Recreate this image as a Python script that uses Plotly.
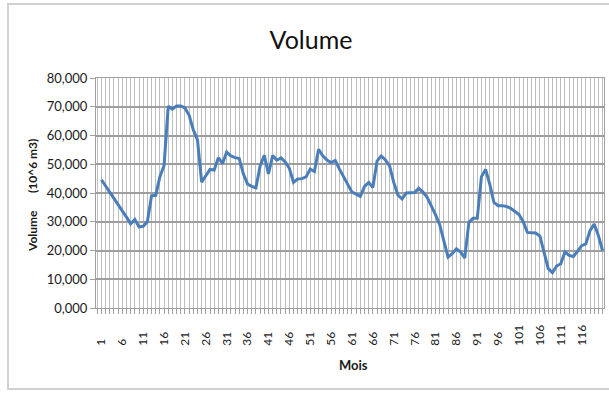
import plotly.graph_objects as go

# Data (10^6 m3), month index 1..121
months = list(range(1, 122))
volume = [
    44.6, 42.5, 40.4, 38.2, 36.0, 33.8, 31.6, 29.3, 30.8, 28.2,
    28.4, 30.0, 39.0, 39.2, 45.7, 49.6, 70.2, 69.2, 70.3, 70.3,
    69.6, 67.0, 62.0, 58.5, 43.8, 46.0, 48.2, 48.0, 52.3, 50.3,
    54.2, 52.9, 52.3, 52.0, 46.6, 43.1, 42.3, 41.8, 49.4, 53.1,
    46.6, 53.0, 51.4, 52.2, 50.8, 48.6, 43.7, 44.9, 45.0, 45.6,
    48.3, 47.5, 55.2, 52.9, 51.5, 50.6, 51.3, 48.3, 45.6, 42.6,
    40.3, 39.6, 38.8, 42.3, 43.7, 41.9, 51.1, 52.9, 51.5, 49.4,
    43.7, 39.3, 37.9, 40.0, 40.1, 40.2, 41.6, 40.3, 38.5, 35.6,
    32.5, 29.0, 22.9, 17.7, 18.9, 20.6, 19.5, 17.4, 29.8, 31.2,
    31.2, 45.7, 48.2, 43.0, 36.7, 35.6, 35.6, 35.3, 34.7, 33.5,
    32.5, 30.0, 26.3, 26.2, 26.1, 25.0, 19.5, 13.7, 12.3, 14.6,
    15.4, 19.5, 18.3, 17.9, 19.7, 21.7, 22.3, 26.9, 29.2, 25.2,
    20.0,
]

x_tick_vals = list(range(1, 117, 5))
x_tick_text = [str(v) + "\u2007" * (3 - len(str(v))) for v in x_tick_vals]
y_tick_vals = [0, 10, 20, 30, 40, 50, 60, 70, 80]
y_tick_text = ["0,000", "10,000", "20,000", "30,000", "40,000",
               "50,000", "60,000", "70,000", "80,000"]

FONT = "Lato"
W, H = 609, 395
ML, MR, MT, MB = 96, 5, 78, 87
PW = W - ML - MR
PH = H - MT - MB

def px_x(p):
    return (p - ML) / PW

def px_y(p):
    return (H - MB - p) / PH

fig = go.Figure()
fig.add_trace(go.Scatter(
    x=months, y=volume, mode="lines",
    line=dict(color="#4a7ebb", width=3),
    hoverinfo="x+y", showlegend=False, cliponaxis=True,
))

fig.update_layout(
    width=W, height=H,
    margin=dict(l=ML, r=MR, t=MT, b=MB, pad=0, autoexpand=False),
    paper_bgcolor="white", plot_bgcolor="white",
    font=dict(family=FONT, color="#1a1a1a"),
    title=dict(text="Volume", x=311 / W, y=1 - 40 / H, xref="container",
               yref="container", xanchor="center", yanchor="middle",
               font=dict(family=FONT, size=25, color="#111111")),
    xaxis=dict(
        range=[-0.3, 121.35], automargin=False,
        tickmode="array", tickvals=x_tick_vals, ticktext=x_tick_text,
        tickangle=-90, tickfont=dict(family=FONT, size=12, color="#1a1a1a"),
        ticks="outside", ticklen=5, tickcolor="#a0a0a0",
        ticklabelstandoff=6,
        showgrid=True, gridcolor="#bdbdbd", gridwidth=1,
        showline=True, linecolor="#a0a0a0", linewidth=1, mirror=True,
        zeroline=False,
        minor=dict(tickmode="linear", tick0=0, dtick=1, ticks="outside",
                   ticklen=5, tickcolor="#a0a0a0", showgrid=True,
                   gridcolor="#bdbdbd", gridwidth=1),
    ),
    yaxis=dict(
        range=[0, 80], automargin=False,
        tickmode="array", tickvals=y_tick_vals, ticktext=y_tick_text,
        tickfont=dict(family=FONT, size=13, color="#1a1a1a"),
        ticks="outside", ticklen=5, tickcolor="#a0a0a0",
        showgrid=True, gridcolor="#9e9e9e", gridwidth=2,
        showline=True, linecolor="#a0a0a0", linewidth=1, mirror=True,
        zeroline=False,
    ),
    annotations=[
        dict(text="<b>Volume" + "\u00a0" * 6 + "(10^6 m3)</b>", textangle=-90,
             x=px_x(32), y=px_y(196), xref="paper", yref="paper",
             xanchor="center", yanchor="middle", showarrow=False,
             font=dict(family=FONT, size=12, color="#1a1a1a")),
        dict(text="<b>Mois</b>", x=px_x(353), y=px_y(365), xref="paper",
             yref="paper", xanchor="center", yanchor="middle",
             showarrow=False, font=dict(family=FONT, size=13, color="#1a1a1a")),
    ],
    shapes=[
        dict(type="rect", xref="paper", yref="paper",
             x0=px_x(8), x1=px_x(616), y0=px_y(389), y1=px_y(4),
             line=dict(color="#d0d0d0", width=2), fillcolor="rgba(0,0,0,0)",
             layer="below"),
    ],
)

fig.write_html("out.html",
               config={"displayModeBar": False},
               post_script="document.body.style.margin='0';"
                           "document.body.style.padding='0';")
